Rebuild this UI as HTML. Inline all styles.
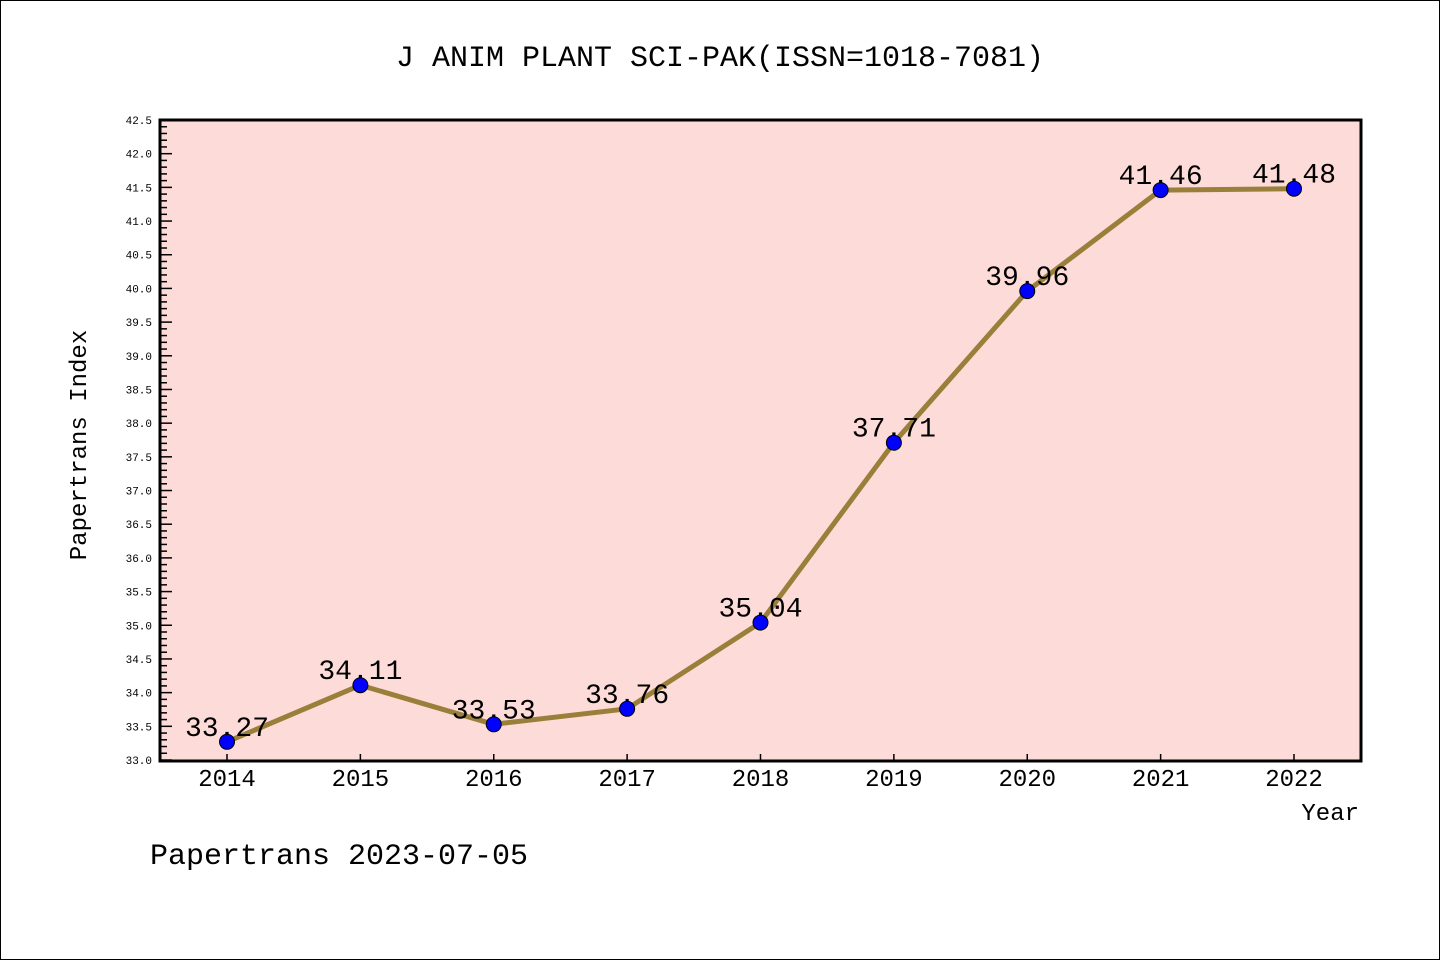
<!DOCTYPE html>
<html><head><meta charset="utf-8"><style>
html,body{margin:0;padding:0;background:#fff}
svg{display:block;font-family:"Liberation Mono","DejaVu Sans Mono",monospace}
</style></head><body>
<svg id="chart" width="1440" height="960" viewBox="0 0 1440 960">
<rect x="0.5" y="0.5" width="1439" height="959" fill="#fff" stroke="#000" stroke-width="1"/>
<text x="720" y="66" font-size="30" text-anchor="middle">J ANIM PLANT SCI-PAK(ISSN=1018-7081)</text>
<rect x="160" y="120" width="1201" height="641" fill="#fddbd8"/>
<g id="yaxis"></g>
<g id="xaxis"></g>
<g id="series"></g>
<rect x="160" y="120" width="1201" height="641" fill="none" stroke="#000" stroke-width="3"/>
<text x="86" y="445" font-size="24" text-anchor="middle" transform="rotate(-90 86 445)">Papertrans Index</text>
<text x="1359" y="820" font-size="24" text-anchor="end">Year</text>
<text x="150" y="864" font-size="30">Papertrans 2023-07-05</text>
</svg>
<script>
const years = [2014,2015,2016,2017,2018,2019,2020,2021,2022];
const values = [33.27,34.11,33.53,33.76,35.04,37.71,39.96,41.46,41.48];
const labels = ["33.27","34.11","33.53","33.76","35.04","37.71","39.96","41.46","41.48"];
const yMin = 33.0, yMax = 42.5;
const NS = "http://www.w3.org/2000/svg";
function xs(i){return 227 + i*(1294-227)/(years.length-1);}
function ys(v){return 760 - (v-yMin)/(yMax-yMin)*640;}
function mk(tag, attrs, parent){const e=document.createElementNS(NS,tag);for(const k in attrs)e.setAttribute(k,attrs[k]);parent.appendChild(e);return e;}
const ya=document.getElementById('yaxis'), xa=document.getElementById('xaxis'), se=document.getElementById('series');
for(let k=0;k<=95;k++){
  const v=yMin+k*0.1, y=ys(v), major=(k%5===0);
  const t=mk('line',{x1:160,x2:major?172:167,y1:y,y2:y,stroke:'#000','stroke-width':1.5},ya);
  
  
  if(major){
    const l=mk('text',{x:152,y:y+4,'font-size':11,'text-anchor':'end'},ya);
    l.textContent=v.toFixed(1);
    
    
  }
}
years.forEach((yr,i)=>{
  const x=xs(i);
  const t=mk('line',{x1:x,x2:x,y1:761,y2:754,stroke:'#000','stroke-width':1.5},xa);
  
  
  const l=mk('text',{x:x,y:786,'font-size':24,'text-anchor':'middle'},xa);
  l.textContent=yr;
  
  
});
const pts=values.map((v,i)=>xs(i)+','+ys(v)).join(' ');
const line=mk('polyline',{points:pts,fill:'none',stroke:'#9a7f3a','stroke-width':5,'stroke-linejoin':'round'},se);


values.forEach((v,i)=>{
  const l=mk('text',{x:xs(i),y:ys(v)-6,'font-size':28,'text-anchor':'middle'},se);
  l.textContent=labels[i];
  
  
});
values.forEach((v,i)=>{
  const c=mk('circle',{cx:xs(i),cy:ys(v),r:7.5,fill:'#0000ff',stroke:'#000','stroke-width':1},se);
  
  
});
</script>
</body></html>
